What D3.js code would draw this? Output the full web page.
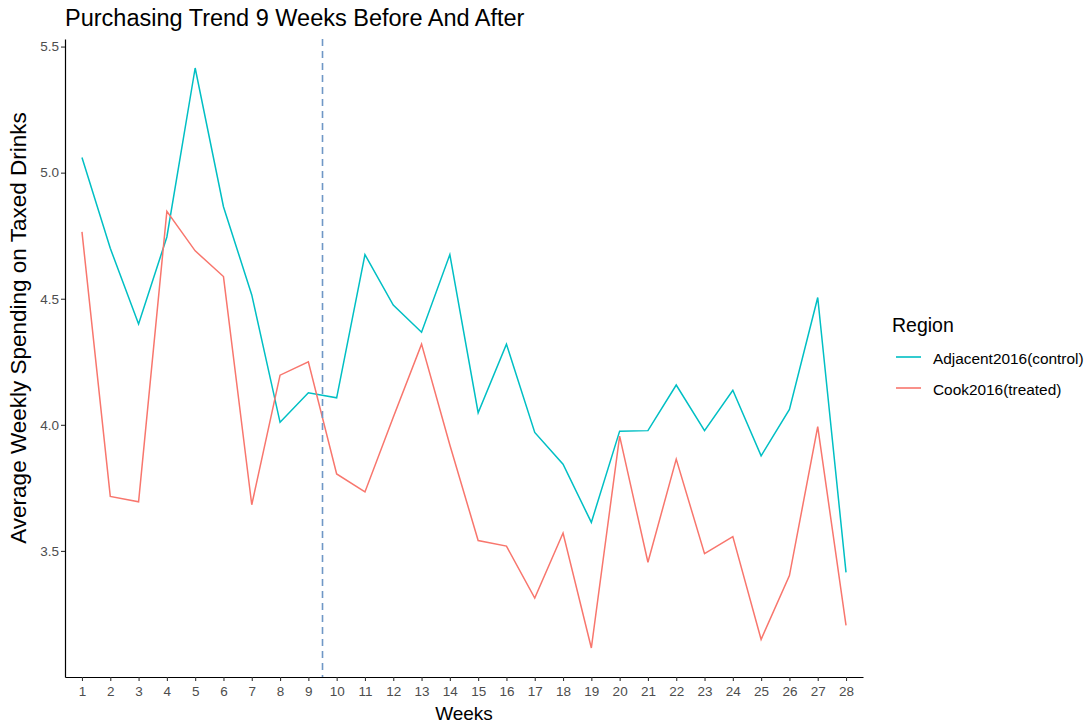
<!DOCTYPE html>
<html>
<head>
<meta charset="utf-8">
<script src="https://cdn.jsdelivr.net/npm/d3@7"></script>
<style>
  body { margin: 0; background: #fff; }
  svg { font-family: "Liberation Sans", Arial, sans-serif; }
</style>
</head>
<body>
<div id="viz"></div>
<script>
// weekly values
const weeks = d3.range(1, 29);
const adjacent = [5.06, 4.70, 4.40, 4.745, 5.415, 4.865, 4.515, 4.01, 4.127, 4.107,
    4.675, 4.475, 4.367, 4.675, 4.048, 4.32, 3.97, 3.844, 3.613, 3.975,
    3.977, 4.158, 3.977, 4.137, 3.877, 4.061, 4.505, 3.415];
const cook = [4.765, 3.716, 3.695, 4.847, 4.69, 4.588, 3.683, 4.197, 4.25, 3.805,
    3.734, 4.03, 4.32, 3.92, 3.541, 3.519, 3.313, 3.571, 3.115, 3.955,
    3.455, 3.864, 3.489, 3.557, 3.149, 3.402, 3.993, 3.205];
const seriesNames = ["Adjacent2016(control)", "Cook2016(treated)"];
const seriesColors = ["#00BFC4", "#F8766D"];
const yTicks = [3.5, 4.0, 4.5, 5.0, 5.5];
const cutoff = 9.5;

const W = 1090, H = 727;
const panel = {left: 65, right: 863, top: 39, bottom: 677};

const svg = d3.select("#viz").append("svg")
    .attr("width", W)
    .attr("height", H);

// discrete-style x with 0.6 expansion each side
const x = d3.scaleLinear()
    .domain([0.4, 28.6])
    .range([panel.left, panel.right]);

const allVals = adjacent.concat(cook);
const ymin = d3.min(allVals), ymax = d3.max(allVals);
const pad = (ymax - ymin) * 0.05;
const y = d3.scaleLinear()
    .domain([ymin - pad, ymax + pad])
    .range([panel.bottom, panel.top]);

// lines
const line = d3.line()
    .x((d, i) => x(weeks[i]))
    .y(d => y(d));

[adjacent, cook].forEach((s, k) => {
  svg.append("path")
      .datum(s)
      .attr("fill", "none")
      .attr("stroke", seriesColors[k])
      .attr("stroke-width", 1.5)
      .attr("stroke-linejoin", "miter")
      .attr("d", line);
});

// treatment cutoff
svg.append("line")
    .attr("x1", x(cutoff)).attr("x2", x(cutoff))
    .attr("y1", panel.top).attr("y2", panel.bottom)
    .attr("stroke", "#6f97c6")
    .attr("stroke-width", 1.6)
    .attr("stroke-dasharray", "7,5");

// axes
const xAxis = svg.append("g")
    .attr("transform", "translate(0," + panel.bottom + ")")
    .call(d3.axisBottom(x).tickValues(weeks).tickFormat(d3.format("d")).tickSize(4).tickSizeOuter(0));
const yAxis = svg.append("g")
    .attr("transform", "translate(" + panel.left + ",0)")
    .call(d3.axisLeft(y).tickValues(yTicks).tickFormat(d3.format(".1f")).tickSize(4).tickSizeOuter(0));

[xAxis, yAxis].forEach(a => {
  a.select(".domain").attr("stroke", "#000").attr("stroke-width", 1.2);
  a.selectAll(".tick line").attr("stroke", "#333").attr("stroke-width", 1.1);
  a.selectAll(".tick text")
      .attr("fill", "#4d4d4d")
      .style("font-size", "13.5px")
      .style("font-family", "'Liberation Sans', Arial, sans-serif");
});
xAxis.selectAll(".tick text").attr("dy", "0.9em").attr("y", 7);
yAxis.selectAll(".tick text").attr("x", -6);

// titles
svg.append("text")
    .attr("x", panel.left)
    .attr("y", 26)
    .style("font-size", "23.5px")
    .attr("fill", "#000")
    .text("Purchasing Trend 9 Weeks Before And After");

svg.append("text")
    .attr("x", (panel.left + panel.right) / 2)
    .attr("y", 720)
    .attr("text-anchor", "middle")
    .style("font-size", "19px")
    .text("Weeks");

svg.append("text")
    .attr("transform", "translate(26,328) rotate(-90)")
    .attr("text-anchor", "middle")
    .style("font-size", "22.5px")
    .text("Average Weekly Spending on Taxed Drinks");

// legend
const legend = svg.append("g").attr("transform", "translate(892,0)");
legend.append("text")
    .attr("x", 0).attr("y", 332)
    .style("font-size", "19.5px")
    .text("Region");

const keys = legend.selectAll(".key")
    .data(seriesNames)
    .join("g")
    .attr("class", "key")
    .attr("transform", (d, i) => "translate(0," + (357 + i * 31) + ")");
keys.append("line")
    .attr("x1", 4).attr("x2", 29)
    .attr("stroke", (d, i) => seriesColors[i])
    .attr("stroke-width", 1.6);
keys.append("text")
    .attr("x", 41).attr("y", 7)
    .style("font-size", "15.4px")
    .attr("fill", "#000")
    .text(d => d);
</script>
</body>
</html>
